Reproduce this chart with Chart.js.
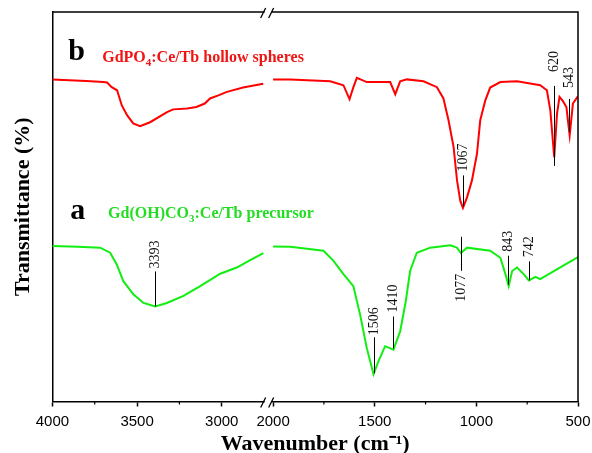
<!DOCTYPE html>
<html>
<head>
<meta charset="utf-8">
<title>FTIR spectra</title>
<script src="https://cdn.jsdelivr.net/npm/chart.js@4.4.1/dist/chart.umd.min.js"></script>
<style>
    html, body { margin: 0; padding: 0; background: #fff; }
    #wrap { width: 592px; height: 453px; position: relative; }
</style>
</head>
<body>
<div id="wrap"><canvas id="ftir"></canvas></div>
<script>
// --- spectrum b (GdPO4:Ce/Tb hollow spheres) ---
const wnRedHigh = [4000, 3900, 3800, 3700, 3677, 3650, 3618, 3590, 3559, 3523, 3482, 3423, 3323, 3287, 3204, 3150, 3100, 3069, 3020, 2969, 2874, 2755];
const tRedHigh  = [82.7, 82.5, 82.3, 82.0, 81.9, 80.7, 79.9, 76.0, 73.5, 71.4, 70.7, 71.7, 74.3, 75.0, 75.2, 75.6, 76.5, 77.8, 78.6, 79.5, 80.6, 81.6];
const wnRedLow  = [2000, 1916, 1719, 1654, 1624, 1605, 1588, 1539, 1424, 1399, 1375, 1342, 1260, 1194, 1162, 1137, 1112, 1095, 1079, 1066, 1046, 1022, 997, 981, 956, 932, 882, 800, 686, 653, 636, 617, 603, 591, 574, 557, 541, 525, 500];
const tRedLow   = [82.7, 82.7, 82.2, 81.2, 77.6, 80.7, 83.1, 82.0, 82.0, 78.9, 82.2, 82.7, 82.2, 80.7, 77.8, 72.2, 65.3, 56.7, 51.5, 49.7, 52.4, 56.7, 63.6, 72.2, 77.3, 80.6, 82.0, 82.2, 81.2, 79.9, 74.7, 62.7, 74.0, 78.2, 77.1, 75.6, 68.3, 76.5, 78.4];

// --- spectrum a (Gd(OH)CO3:Ce/Tb precursor) ---
const wnGreenHigh = [4000, 3850, 3718, 3659, 3620, 3581, 3522, 3462, 3393, 3324, 3226, 3127, 3009, 2911, 2832, 2754];
const tGreenHigh  = [39.9, 39.7, 39.5, 38.2, 35.2, 30.9, 27.5, 25.3, 24.4, 25.3, 27.1, 29.6, 32.8, 34.4, 36.3, 38.1];
const wnGreenLow  = [2000, 1916, 1752, 1703, 1654, 1605, 1572, 1539, 1506, 1482, 1449, 1408, 1375, 1347, 1326, 1293, 1227, 1129, 1096, 1076, 1046, 932, 882, 857, 841, 824, 800, 767, 742, 709, 686, 604, 500];
const tGreenLow   = [39.8, 39.7, 38.7, 36.1, 32.7, 29.6, 22.3, 13.7, 7.0, 10.3, 14.2, 13.3, 18.0, 25.8, 33.5, 38.2, 39.5, 40.1, 39.5, 38.1, 39.5, 38.7, 36.9, 32.7, 29.6, 33.5, 34.4, 32.7, 31.1, 32.0, 31.4, 33.9, 37.1];

// labelled bands
const peaksA = [3393, 1506, 1410, 1077, 843, 742];
const peaksB = [1067, 620, 543];

// axis ticks (ascending)
const ticksHigh = [3000, 3500, 4000];
const ticksLow = [500, 1000, 1500, 2000];
const minorHigh = [3750, 3250];
const minorLow = [1750, 1250, 750];

const RED = '#ff0000';
const GREEN = '#11ee11';
const SERIF = '"Liberation Serif", "Times New Roman", serif';
const SANS = '"Liberation Sans", Arial, sans-serif';

// how each band marker sits against its curve (pixels): line above/below the curve, label gap
const MARK_STYLE = {
    3393: { up: 35, down: 0, gap: 3 },
    1506: { up: 37, down: -1, gap: 2 },
    1410: { up: 33, down: -1, gap: 4 },
    1077: { up: 16, down: 18, gap: 3, below: true },
    843:  { up: 29, down: 0, gap: 4 },
    742:  { up: 19, down: 0, gap: 4 },
    1067: { up: 32, down: -1, gap: 4 },
    620:  { up: 64, down: 16, gap: 14 },
    543:  { up: 33, down: 0, gap: 11 }
};

function toPoints(wns, ts) {
    return wns.map((w, i) => ({ x: w, y: ts[i] }));
}

function curveAt(wns, ts, w) {
    for (let i = 0; i < wns.length - 1; i++) {
        const a = wns[i], b = wns[i + 1];
        if ((w - a) * (w - b) <= 0) {
            const f = a === b ? 0 : (w - a) / (b - a);
            return ts[i] + f * (ts[i + 1] - ts[i]);
        }
    }
    return null;
}

function segment(wns, ts, axisId, color) {
    return {
        data: toPoints(wns, ts),
        xAxisID: axisId,
        yAxisID: 'y',
        borderColor: color,
        borderWidth: 2,
        pointRadius: 0,
        tension: 0,
        fill: false
    };
}

function drawRich(ctx, parts, x, y, color) {
    let cx = x;
    ctx.fillStyle = color;
    ctx.textBaseline = 'alphabetic';
    ctx.textAlign = 'left';
    parts.forEach(([text, sub]) => {
        ctx.font = sub ? `bold 11px ${SERIF}` : `bold 16px ${SERIF}`;
        ctx.fillText(text, cx, sub ? y + 4 : y);
        cx += ctx.measureText(text).width;
    });
}

const notesPlugin = {
    id: 'notes',
    afterDraw(chart) {
        const { ctx, chartArea: ca, scales } = chart;
        const xL = scales.xL, xR = scales.xR, y = scales.y;
        ctx.save();

        // top and right edges of the frame
        ctx.strokeStyle = '#000';
        ctx.lineWidth = 1.5;
        ctx.beginPath();
        ctx.moveTo(ca.left, ca.top);
        ctx.lineTo(ca.right, ca.top);
        ctx.lineTo(ca.right, ca.bottom);
        ctx.stroke();

        // minor ticks
        ctx.lineWidth = 1.2;
        ctx.beginPath();
        minorHigh.forEach(v => { const px = xL.getPixelForValue(v); ctx.moveTo(px, ca.bottom); ctx.lineTo(px, ca.bottom + 3); });
        minorLow.forEach(v => { const px = xR.getPixelForValue(v); ctx.moveTo(px, ca.bottom); ctx.lineTo(px, ca.bottom + 3); });
        ctx.stroke();

        // axis break marks
        const bx = xL.right;
        [ca.top, ca.bottom].forEach(yy => {
            ctx.fillStyle = '#fff';
            ctx.fillRect(bx - 5, yy - 2, 7, 4);
            ctx.strokeStyle = '#000';
            ctx.lineWidth = 1.3;
            ctx.beginPath();
            ctx.moveTo(bx - 9, yy + 6); ctx.lineTo(bx - 4, yy - 4);
            ctx.moveTo(bx - 1, yy + 6); ctx.lineTo(bx + 4, yy - 4);
            ctx.stroke();
        });

        // band markers
        const marks = [
            ...peaksA.map(w => ({ w, hi: [wnGreenHigh, tGreenHigh], lo: [wnGreenLow, tGreenLow] })),
            ...peaksB.map(w => ({ w, hi: [wnRedHigh, tRedHigh], lo: [wnRedLow, tRedLow] }))
        ];
        marks.forEach(m => {
            const high = m.w > 2400;
            const xs = high ? xL : xR;
            const [ws, ts] = high ? m.hi : m.lo;
            const v = curveAt(ws, ts, m.w);
            if (v === null) return;
            const st = MARK_STYLE[m.w] || { up: 30, down: 0, gap: 3 };
            const px = Math.round(xs.getPixelForValue(m.w)) + 0.5;
            const py = y.getPixelForValue(v);
            const top = py - st.up, bot = py + st.down;
            ctx.strokeStyle = '#000';
            ctx.lineWidth = 1;
            ctx.beginPath();
            ctx.moveTo(px, top);
            ctx.lineTo(px, bot);
            ctx.stroke();

            ctx.save();
            ctx.fillStyle = '#111';
            ctx.font = `14px ${SERIF}`;
            ctx.textBaseline = 'middle';
            if (st.below) {
                ctx.translate(px, bot + st.gap);
                ctx.rotate(-Math.PI / 2);
                ctx.textAlign = 'right';
            } else {
                ctx.translate(px, top - st.gap);
                ctx.rotate(-Math.PI / 2);
                ctx.textAlign = 'left';
            }
            ctx.fillText(String(m.w), 0, 0);
            ctx.restore();
        });

        // curve tags
        ctx.fillStyle = '#000';
        ctx.font = `bold 30px ${SERIF}`;
        ctx.textAlign = 'left';
        ctx.textBaseline = 'alphabetic';
        ctx.fillText('b', xL.getPixelForValue(3907), y.getPixelForValue(87.6));
        ctx.fillText('a', xL.getPixelForValue(3895), y.getPixelForValue(46.9));
        drawRich(ctx, [['GdPO', 0], ['4', 1], [':Ce/Tb hollow spheres', 0]],
            xL.getPixelForValue(3706), y.getPixelForValue(87.1), '#f01515');
        drawRich(ctx, [['Gd(OH)CO', 0], ['3', 1], [':Ce/Tb precursor', 0]],
            xL.getPixelForValue(3671), y.getPixelForValue(47.2), '#22dd22');

        ctx.restore();
    }
};

function bottomAxis(min, max, weight, ticks) {
    return {
        type: 'linear',
        position: 'bottom',
        stack: 'wn',
        stackWeight: weight,
        min: min,
        max: max,
        reverse: true,
        afterBuildTicks: s => { s.ticks = ticks.map(v => ({ value: v })); },
        ticks: {
            font: { family: SANS, size: 15 },
            color: '#000',
            padding: 6,
            autoSkip: false,
            maxRotation: 0,
            callback: v => String(v) // no thousands separator
        },
        grid: { display: true, drawOnChartArea: false, drawTicks: true, tickLength: 5, tickColor: '#000', tickWidth: 1.5 },
        border: { display: true, color: '#000', width: 1.5 }
    };
}

const ctx = document.getElementById('ftir').getContext('2d');
new Chart(ctx, {
    type: 'line',
    data: {
        datasets: [
            segment(wnRedHigh, tRedHigh, 'xL', RED),
            segment(wnRedLow, tRedLow, 'xR', RED),
            segment(wnGreenHigh, tGreenHigh, 'xL', GREEN),
            segment(wnGreenLow, tGreenLow, 'xR', GREEN)
        ]
    },
    options: {
        responsive: true,
        maintainAspectRatio: false,
        animation: false,
        layout: { padding: { left: 0, right: 14, top: 12, bottom: 0 } },
        plugins: { legend: { display: false }, tooltip: { enabled: false } },
        scales: {
            xL: bottomAxis(2717, 4000, 217, ticksHigh),
            xR: bottomAxis(500, 2017, 308, ticksLow),
            xTitle: {
                type: 'linear',
                position: 'bottom',
                weight: 5,
                min: 0,
                max: 1,
                ticks: { display: false },
                grid: { display: false, drawTicks: false },
                border: { display: false },
                title: {
                    display: true,
                    text: 'Wavenumber (cm\u207B\u00B9)',
                    color: '#000',
                    font: { family: SERIF, size: 22, weight: 'bold', lineHeight: 0.75 },
                    padding: { top: 0, bottom: 0 }
                }
            },
            y: {
                type: 'linear',
                position: 'left',
                min: 0,
                max: 100,
                ticks: { display: false },
                grid: { display: false, drawTicks: false },
                border: { display: true, color: '#000', width: 1.5 },
                title: {
                    display: true,
                    text: 'Transmittance (%)',
                    color: '#000',
                    font: { family: SERIF, size: 22, weight: 'bold', lineHeight: 1.2 },
                    padding: { top: 10, bottom: 16 }
                }
            }
        }
    },
    plugins: [notesPlugin]
});
</script>
</body>
</html>
